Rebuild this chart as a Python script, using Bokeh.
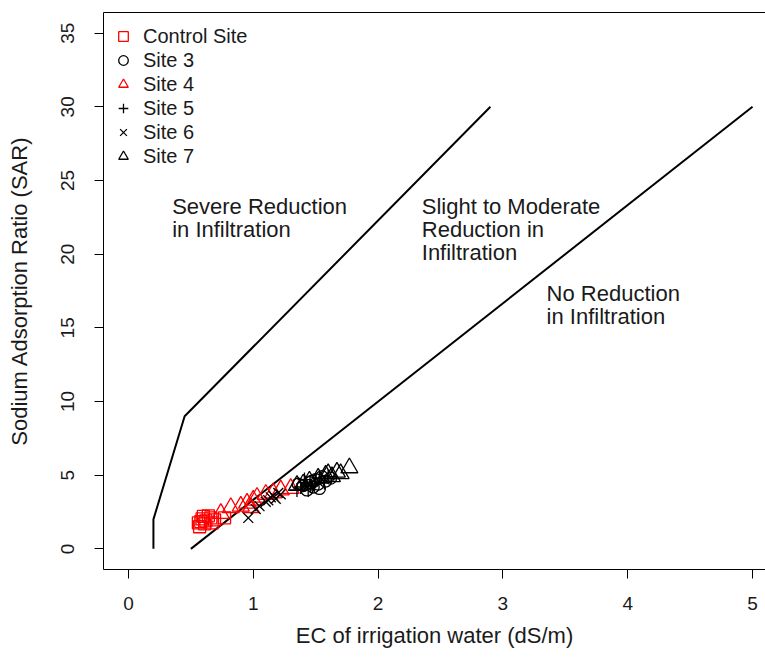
from bokeh.plotting import figure
from bokeh.models import Range1d, FixedTicker, LinearAxis, Legend, LegendItem
from bokeh.core.properties import value
from bokeh.embed import file_html
from bokeh.resources import INLINE

FONT = "Liberation Sans"

# ---- tick values ----
x_ticks = [0, 1, 2, 3, 4, 5]
y_ticks = [0, 5, 10, 15, 20, 25, 30, 35]

# ---- boundary lines (FAO infiltration classes) ----
severe_ec = [0.2, 0.2, 0.45, 2.9]
severe_sar = [0, 2, 9, 30]
slight_ec = [0.5, 5.0]
slight_sar = [0, 30]

# ---- sample data ----
control_ec = [0.56, 0.59, 0.62, 0.66, 0.69, 0.57, 0.61, 0.67, 0.64, 0.77, 0.60, 0.58]
control_sar = [1.77, 2.04, 1.90, 2.11, 1.97, 1.50, 1.70, 1.77, 2.24, 2.11, 2.20, 1.85]

site3_ec = [1.40, 1.45, 1.48, 1.50, 1.52, 1.55, 1.58, 1.62, 1.43, 1.47, 1.36, 1.53]
site3_sar = [4.3, 4.5, 4.2, 4.7, 4.4, 4.9, 4.6, 4.8, 4.0, 4.6, 4.4, 4.1]

site4_ec = [0.74, 0.82, 0.90, 0.95, 1.00, 1.03, 1.10, 1.16, 1.22, 1.30, 0.98]
site4_sar = [2.4, 2.8, 2.9, 3.1, 3.3, 3.5, 3.7, 3.8, 4.0, 4.1, 2.8]

site5_ec = [1.38, 1.42, 1.46, 1.50, 1.53, 1.57, 1.44, 1.60, 1.35, 1.49, 1.41]
site5_sar = [4.2, 4.5, 4.3, 4.6, 4.8, 4.5, 4.0, 4.9, 4.0, 4.4, 4.7]

site6_ec = [0.96, 1.05, 1.10, 1.14, 1.18, 1.22, 1.02, 1.16, 1.12, 1.20]
site6_sar = [2.1, 2.9, 3.2, 3.5, 3.4, 3.7, 2.7, 3.6, 3.3, 3.8]

site7_ec = [1.35, 1.45, 1.52, 1.58, 1.63, 1.67, 1.70, 1.77, 1.40, 1.60]
site7_sar = [4.3, 4.6, 4.8, 5.0, 4.9, 5.2, 5.1, 5.5, 4.4, 5.1]

# ---- region annotations ----
region_labels = ["Severe Reduction\nin Infiltration",
                 "Slight to Moderate\nReduction in\nInfiltration",
                 "No Reduction\nin Infiltration"]
region_x = [0.35, 2.35, 3.35]
region_y = [24.1, 24.1, 18.2]

p = figure(width=765, height=657, output_backend="svg", toolbar_location=None,
           x_range=Range1d(-0.2, 5.104), y_range=Range1d(-1.4, 36.4),
           min_border_left=103, min_border_right=0, min_border_top=12,
           min_border_bottom=88,
           x_axis_label="EC of irrigation water (dS/m)",
           y_axis_label="Sodium Adsorption Ratio (SAR)")
p.outline_line_color = None
p.grid.visible = False
p.background_fill_color = "white"
p.border_fill_color = "white"

for ax in (p.xaxis[0], p.yaxis[0]):
    ax.axis_line_color = "black"
    ax.axis_line_width = 1
    ax.major_tick_out = 9
    ax.major_tick_in = 0
    ax.minor_tick_out = 0
    ax.minor_tick_in = 0
    ax.major_tick_line_color = "black"
    ax.major_label_text_font = FONT
    ax.major_label_text_font_size = "19px"
    ax.major_label_text_color = "#1a1a1a"
    ax.axis_label_text_font = FONT
    ax.axis_label_text_font_size = "22px"
    ax.axis_label_text_font_style = "normal"
    ax.axis_label_text_color = "#1a1a1a"

p.xaxis.ticker = FixedTicker(ticks=x_ticks)
p.yaxis.ticker = FixedTicker(ticks=y_ticks)
p.yaxis.major_label_orientation = "vertical"
p.xaxis.major_label_standoff = 18
p.xaxis.axis_label_standoff = 10
p.yaxis.major_label_standoff = 20
p.yaxis.axis_label_standoff = 27

top_axis = LinearAxis(ticker=FixedTicker(ticks=[]), major_tick_out=0, major_tick_in=0,
                      minor_tick_out=0, minor_tick_in=0,
                      major_label_text_font_size="0px", major_label_standoff=0,
                      axis_line_color="black", axis_line_width=1)
p.add_layout(top_axis, "above")

# boundary lines
p.line(severe_ec, severe_sar, line_color="black", line_width=2)
p.line(slight_ec, slight_sar, line_color="black", line_width=2)

# region labels
p.text(x=region_x, y=region_y, text=region_labels, text_font=value(FONT),
       text_font_size="22px", text_align="left", text_baseline="top",
       text_line_height=0.92, text_color="#1a1a1a")

RED = "#FF0000"
r_ctrl = p.scatter(control_ec, control_sar, marker="square", size=12,
                   fill_color=None, line_color=RED, line_width=1.3)
r_s3 = p.scatter(site3_ec, site3_sar, marker="circle", size=12,
                 fill_color=None, line_color="black", line_width=1.3)
r_s4 = p.scatter(site4_ec, site4_sar, marker="triangle", size=17,
                 fill_color=None, line_color=RED, line_width=1.3)
r_s5 = p.scatter(site5_ec, site5_sar, marker="cross", size=14,
                 fill_color=None, line_color="black", line_width=1.3)
r_s6 = p.scatter(site6_ec, site6_sar, marker="x", size=14,
                 fill_color=None, line_color="black", line_width=1.3)
r_s7 = p.scatter(site7_ec, site7_sar, marker="triangle", size=17,
                 fill_color=None, line_color="black", line_width=1.3)

legend = Legend(items=[LegendItem(label="Control Site", renderers=[r_ctrl]),
                       LegendItem(label="Site 3", renderers=[r_s3]),
                       LegendItem(label="Site 4", renderers=[r_s4]),
                       LegendItem(label="Site 5", renderers=[r_s5]),
                       LegendItem(label="Site 6", renderers=[r_s6]),
                       LegendItem(label="Site 7", renderers=[r_s7])],
                location=(0, 393), orientation="vertical",
                background_fill_alpha=0, border_line_alpha=0,
                label_text_font=FONT, label_text_font_size="20px",
                label_text_color="#1a1a1a",
                glyph_width=24, glyph_height=24, label_height=24,
                label_standoff=8, spacing=0, padding=8, margin=0)
p.add_layout(legend)

open("out.html", "w").write(file_html(p, INLINE))
